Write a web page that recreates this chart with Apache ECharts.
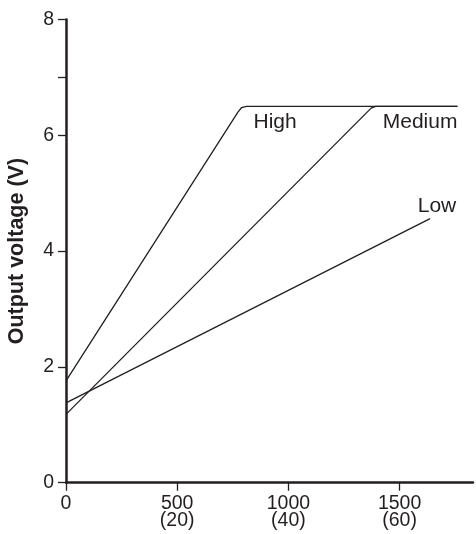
<!DOCTYPE html>
<html>
<head>
<meta charset="utf-8">
<script src="https://cdn.jsdelivr.net/npm/echarts@6/dist/echarts.min.js"></script>
<style>
  html, body { margin: 0; padding: 0; background: #fff; }
  #chart { width: 476px; height: 534px; }
</style>
</head>
<body>
<div id="chart"></div>
<script>
// data
const highLine = [[0, 1.76], [773, 6.40], [790, 6.48], [812, 6.5], [1760, 6.5]]
const mediumLine = [[0, 1.18], [1372, 6.47], [1392, 6.5], [1760, 6.5]]
const lowLine = [[0, 1.38], [1637, 4.56]]
const xTicks = [0, 500, 1000, 1500]
const xSubLabels = { 500: '(20)', 1000: '(40)', 1500: '(60)' }
const yTicks = [0, 2, 4, 6, 7, 8]
const yLabels = [0, 2, 4, 6, 8]
// label anchors for the curves (data coords)
const curveNames = [
  { name: 'High', coord: [940, 6.23] },
  { name: 'Medium', coord: [1592, 6.23] },
  { name: 'Low', coord: [1668, 4.77] }
]

const INK = '#231f20'
const FONT = 'Liberation Sans, Arial, sans-serif'

const chart = echarts.init(document.getElementById('chart'), null, { renderer: 'canvas' })

function lineSeries (data, extra) {
  return Object.assign({
    type: 'line',
    data: data,
    symbol: 'none',
    silent: true,
    lineStyle: { color: INK, width: 1.3 }
  }, extra || {})
}

const labelPoints = curveNames.map(c => ({
  coord: c.coord,
  value: c.name,
  symbolSize: 0,
  label: {
    show: true,
    position: 'inside',
    formatter: c.name,
    color: INK,
    fontFamily: FONT,
    fontSize: 21
  }
}))

chart.setOption({
  animation: false,
  grid: { left: 66, right: 3, top: 19.5, bottom: 51.3, outerBoundsMode: 'none', containLabel: false },
  xAxis: {
    type: 'value',
    min: 0,
    max: 1830,
    interval: 500,
    splitLine: { show: false },
    axisLine: { lineStyle: { color: INK, width: 2.5 } },
    axisTick: { show: true, length: 8, lineStyle: { color: INK, width: 1.3 }, customValues: xTicks },
    axisLabel: {
      customValues: xTicks,
      margin: 12,
      color: INK,
      fontFamily: FONT,
      fontSize: 19.5,
      lineHeight: 17.5,
      formatter: v => xSubLabels[v] ? v + '\n' + xSubLabels[v] : String(v)
    }
  },
  yAxis: {
    type: 'value',
    min: 0,
    max: 8,
    interval: 1,
    name: 'Output voltage (V)',
    nameLocation: 'middle',
    nameGap: 37.5,
    nameTextStyle: { color: INK, fontFamily: FONT, fontSize: 21.5, fontWeight: 'bold' },
    splitLine: { show: false },
    axisLine: { show: true, lineStyle: { color: INK, width: 2.5 } },
    axisTick: { show: true, length: 8, lineStyle: { color: INK, width: 1.3 }, customValues: yTicks },
    axisLabel: {
      customValues: yLabels,
      margin: 12,
      color: INK,
      fontFamily: FONT,
      fontSize: 19.5
    }
  },
  series: [
    lineSeries(highLine, {
      markPoint: { symbol: 'circle', symbolSize: 0, silent: true, data: labelPoints }
    }),
    lineSeries(mediumLine),
    lineSeries(lowLine)
  ]
})
</script>
</body>
</html>
